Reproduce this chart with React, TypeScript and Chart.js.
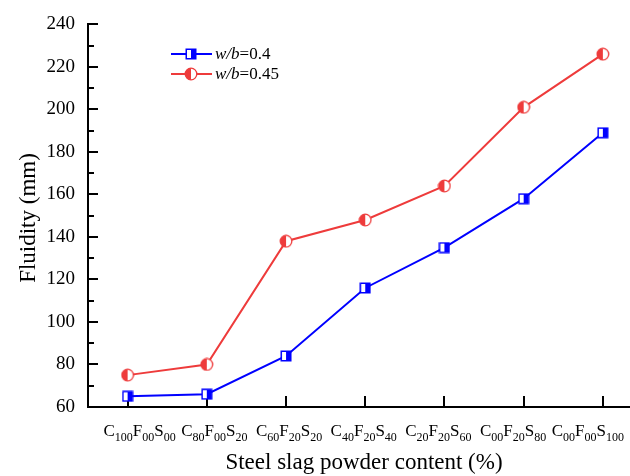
import React, { useEffect, useRef } from "react";
import { Chart, registerables } from "chart.js";

Chart.register(...registerables);

const categories = [
  "C100F00S00",
  "C80F00S20",
  "C60F20S20",
  "C40F20S40",
  "C20F20S60",
  "C00F20S80",
  "C00F00S100",
];
const wb04 = [65, 66, 84, 116, 135, 158, 189];
const wb045 = [75, 80, 138, 148, 164, 201, 226];
const yMin = 60;
const yMax = 240;
const yStep = 20;
const yMinorStep = 10;
const seriesNames = [
  { italic: "w/b", rest: "=0.4" },
  { italic: "w/b", rest: "=0.45" },
];
const xTitle = "Steel slag powder content (%)";
const yTitle = "Fluidity (mm)";

const BLUE = "#0000ff";
const RED = "#ee3b3b";
const FONT = '"Liberation Serif", "Times New Roman", serif';
// category labels in the source are laid out slightly tighter than the ticks
const LABEL_OFFSET = 0.152;
const LABEL_SPREAD = 0.943;

function makeSquare(): HTMLCanvasElement {
  const c = document.createElement("canvas");
  c.width = 12;
  c.height = 12;
  const g = c.getContext("2d")!;
  g.fillStyle = "#ffffff";
  g.fillRect(1, 1, 10, 10);
  g.fillStyle = BLUE;
  g.fillRect(6, 1, 5, 10);
  g.strokeStyle = BLUE;
  g.lineWidth = 1.5;
  g.strokeRect(1.25, 1.25, 9.5, 9.5);
  return c;
}

function makeCircle(): HTMLCanvasElement {
  const c = document.createElement("canvas");
  c.width = 14;
  c.height = 14;
  const g = c.getContext("2d")!;
  g.fillStyle = "#ffffff";
  g.beginPath();
  g.arc(7, 7, 5.8, 0, Math.PI * 2);
  g.fill();
  g.fillStyle = RED;
  g.beginPath();
  g.arc(7, 7, 5.8, Math.PI / 2, (3 * Math.PI) / 2);
  g.closePath();
  g.fill();
  g.strokeStyle = RED;
  g.lineWidth = 1.3;
  g.beginPath();
  g.arc(7, 7, 5.8, 0, Math.PI * 2);
  g.stroke();
  return c;
}

export default function App() {
  const ref = useRef<HTMLCanvasElement | null>(null);

  useEffect(() => {
    const canvas = ref.current!;
    const sq = makeSquare();
    const ci = makeCircle();

    const decor = {
      id: "decor",
      beforeDatasetsDraw(chart: any) {
        const ctx = chart.ctx;
        const xs = chart.scales.x;
        const ys = chart.scales.y;
        const left = chart.chartArea.left;
        const bottom = chart.chartArea.bottom;
        ctx.save();
        ctx.strokeStyle = "#000";
        ctx.lineWidth = 2;
        for (let v = yMin; v <= yMax; v += yMinorStep) {
          const y = Math.round(ys.getPixelForValue(v));
          const major = (v - yMin) % yStep === 0;
          ctx.beginPath();
          ctx.moveTo(left, y);
          ctx.lineTo(left + (major ? 10 : 6), y);
          ctx.stroke();
        }
        categories.forEach((_, i) => {
          const x = Math.round(xs.getPixelForValue(i));
          ctx.beginPath();
          ctx.moveTo(x, bottom);
          ctx.lineTo(x, bottom - 11);
          ctx.stroke();
        });
        ctx.restore();
      },
      afterDraw(chart: any) {
        const ctx = chart.ctx;
        const xs = chart.scales.x;
        ctx.save();
        ctx.fillStyle = "#000";
        ctx.textBaseline = "alphabetic";
        ctx.textAlign = "left";
        categories.forEach((lab, i) => {
          const parts: { t: string; sub: boolean }[] = [];
          const re = /([A-Z])(\d+)/g;
          let m;
          while ((m = re.exec(lab))) {
            parts.push({ t: m[1], sub: false });
            parts.push({ t: m[2], sub: true });
          }
          const fMain = `17px ${FONT}`;
          const fSub = `12px ${FONT}`;
          let w = 0;
          parts.forEach((p) => {
            ctx.font = p.sub ? fSub : fMain;
            w += ctx.measureText(p.t).width;
          });
          let x = xs.getPixelForValue(LABEL_OFFSET + i * LABEL_SPREAD) - w / 2;
          parts.forEach((p) => {
            ctx.font = p.sub ? fSub : fMain;
            ctx.fillText(p.t, x, p.sub ? 441 : 436);
            x += ctx.measureText(p.t).width;
          });
        });
        ctx.font = `23px ${FONT}`;
        ctx.textAlign = "center";
        ctx.fillText(xTitle, 364, 469);
        ctx.save();
        ctx.translate(35, 218);
        ctx.rotate(-Math.PI / 2);
        ctx.fillText(yTitle, 0, 0);
        ctx.restore();
        const rows = [
          { y: 54, color: BLUE, img: sq },
          { y: 74, color: RED, img: ci },
        ];
        rows.forEach((r, k) => {
          ctx.strokeStyle = r.color;
          ctx.lineWidth = 2;
          ctx.beginPath();
          ctx.moveTo(171, r.y);
          ctx.lineTo(212, r.y);
          ctx.stroke();
          ctx.drawImage(r.img, 191 - r.img.width / 2, r.y - r.img.height / 2);
          ctx.fillStyle = "#000";
          ctx.textAlign = "left";
          ctx.textBaseline = "middle";
          let tx = 215;
          ctx.font = `italic 17px ${FONT}`;
          ctx.fillText(seriesNames[k].italic, tx, r.y + 1);
          tx += ctx.measureText(seriesNames[k].italic).width;
          ctx.font = `17px ${FONT}`;
          ctx.fillText(seriesNames[k].rest, tx, r.y + 1);
        });
        ctx.restore();
      },
    };

    const chart = new Chart(canvas, {
      type: "line",
      data: {
        datasets: [
          {
            label: "w/b=0.4",
            data: wb04.map((v, i) => ({ x: i, y: v })),
            borderColor: BLUE,
            backgroundColor: BLUE,
            borderWidth: 2,
            pointStyle: sq as any,
            pointRadius: 6,
            clip: false as any,
          },
          {
            label: "w/b=0.45",
            data: wb045.map((v, i) => ({ x: i, y: v })),
            borderColor: RED,
            backgroundColor: RED,
            borderWidth: 2,
            pointStyle: ci as any,
            pointRadius: 6,
            clip: false as any,
          },
        ],
      },
      options: {
        responsive: false,
        animation: false,
        devicePixelRatio: 1,
        layout: { autoPadding: false, padding: { left: 0, top: 21, right: 0, bottom: 0 } },
        plugins: {
          legend: { display: false },
          tooltip: { enabled: false },
          title: { display: false },
        },
        scales: {
          x: {
            type: "linear",
            min: -0.5,
            max: 6.343,
            grid: { display: false, drawTicks: false },
            border: { display: true, color: "#000", width: 2 },
            ticks: { display: false },
            afterFit: (s: any) => {
              s.height = 69;
            },
          },
          y: {
            type: "linear",
            min: yMin,
            max: yMax,
            grid: { display: false, drawTicks: false },
            border: { display: true, color: "#000", width: 2 },
            ticks: {
              stepSize: yStep,
              padding: 13,
              color: "#000",
              font: { family: FONT, size: 19 },
            },
            afterFit: (s: any) => {
              s.width = 88;
            },
          },
        },
      },
      plugins: [decor],
    });
    return () => chart.destroy();
  }, []);

  return (
    <div style={{ position: "fixed", left: 0, top: 0, width: 630, height: 476, background: "#fff" }}>
      <canvas ref={ref} width={630} height={476} style={{ display: "block" }} />
    </div>
  );
}
